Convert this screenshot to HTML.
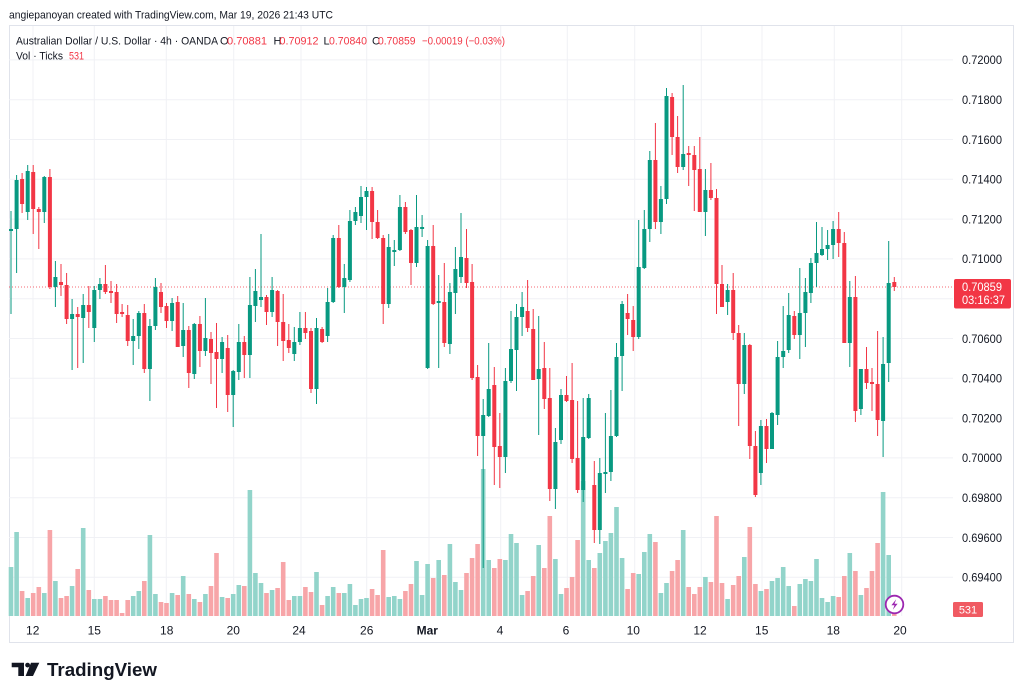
<!DOCTYPE html>
<html>
<head>
<meta charset="utf-8">
<style>
html,body{margin:0;padding:0;background:#fff;}
body{width:1024px;height:698px;overflow:hidden;}
svg{display:block;}
text{font-family:"Liberation Sans",Arial,sans-serif;}
</style>
</head>
<body>
<svg width="1024" height="698" viewBox="0 0 1024 698" xmlns="http://www.w3.org/2000/svg">
<rect x="0" y="0" width="1024" height="698" fill="#ffffff"/>

<!-- header -->
<text x="9" y="18.5" font-size="11" fill="#131722" textLength="324" lengthAdjust="spacingAndGlyphs">angiepanoyan created with TradingView.com, Mar 19, 2026 21:43 UTC</text>

<!-- frame -->
<rect x="9.5" y="25.5" width="1004" height="617" fill="none" stroke="#e0e3eb" stroke-width="1"/>

<!-- grid -->
<g stroke="#f0f1f5" stroke-width="1">
<path d="M9 59.9H953M9 99.7H953M9 139.5H953M9 179.3H953M9 219.1H953M9 258.9H953M9 298.7H953M9 338.5H953M9 378.3H953M9 418.1H953M9 457.9H953M9 497.7H953M9 537.5H953M9 577.3H953"/>
<path d="M33 26V616M94.3 26V616M166.3 26V616M233.7 26V616M301 26V616M366.7 26V616M429 26V616M500.7 26V616M567.3 26V616M634.7 26V616M701.3 26V616M762 26V616M834.3 26V616M901.7 26V616"/>
</g>

<!-- current price dotted line -->
<path d="M9 287H954" stroke="#f23645" stroke-width="1" stroke-dasharray="1 2" opacity="0.75"/>

<!-- volume -->
<path fill="#92d4ca" d="M8.7 616V567h4.6V616zM14.3 616V532h4.6V616zM25.4 616V598h4.6V616zM42 616V593h4.6V616zM53.1 616V581h4.6V616zM69.8 616V586h4.6V616zM80.9 616V528h4.6V616zM92 616V599h4.6V616zM97.6 616V599h4.6V616zM130.9 616V596h4.6V616zM136.5 616V591h4.6V616zM147.6 616V535h4.6V616zM153.1 616V594h4.6V616zM169.8 616V593h4.6V616zM180.9 616V576h4.6V616zM192 616V599h4.6V616zM203.1 616V594h4.6V616zM219.8 616V597h4.6V616zM230.9 616V594h4.6V616zM236.5 616V585h4.6V616zM247.6 616V490h4.6V616zM253.1 616V573h4.6V616zM258.7 616V583h4.6V616zM269.8 616V590h4.6V616zM292 616V596h4.6V616zM297.6 616V596h4.6V616zM314.2 616V572h4.6V616zM325.3 616V596h4.6V616zM330.9 616V587h4.6V616zM342 616V593h4.6V616zM347.6 616V584h4.6V616zM353.1 616V605h4.6V616zM358.7 616V599h4.6V616zM364.2 616V598h4.6V616zM386.4 616V597h4.6V616zM392 616V596h4.6V616zM397.6 616V599h4.6V616zM414.2 616V561h4.6V616zM419.8 616V595h4.6V616zM425.3 616V564h4.6V616zM436.4 616V560h4.6V616zM447.6 616V544h4.6V616zM453.1 616V582h4.6V616zM458.7 616V590h4.6V616zM480.9 616V469h4.6V616zM486.4 616V560h4.6V616zM503.1 616V560h4.6V616zM508.7 616V534h4.6V616zM514.2 616V543h4.6V616zM519.8 616V595h4.6V616zM536.4 616V545h4.6V616zM553.1 616V559h4.6V616zM558.7 616V594h4.6V616zM580.9 616V481h4.6V616zM586.4 616V560h4.6V616zM597.5 616V553h4.6V616zM603.1 616V541h4.6V616zM608.6 616V533h4.6V616zM614.2 616V507h4.6V616zM619.8 616V558h4.6V616zM636.4 616V574h4.6V616zM642 616V552h4.6V616zM647.5 616V534h4.6V616zM658.6 616V593h4.6V616zM664.2 616V583h4.6V616zM680.9 616V530h4.6V616zM703.1 616V577h4.6V616zM725.3 616V599h4.6V616zM742 616V557h4.6V616zM758.6 616V591h4.6V616zM769.7 616V581h4.6V616zM775.3 616V578h4.6V616zM780.9 616V567h4.6V616zM786.4 616V586h4.6V616zM797.5 616V584h4.6V616zM803.1 616V579h4.6V616zM808.6 616V581h4.6V616zM814.2 616V559h4.6V616zM819.7 616V598h4.6V616zM825.3 616V602h4.6V616zM830.8 616V596h4.6V616zM847.5 616V553h4.6V616zM858.6 616V595h4.6V616zM880.8 616V492h4.6V616zM886.4 616V555h4.6V616z"/>
<path fill="#f7a5a8" d="M19.8 616V591h4.6V616zM30.9 616V593h4.6V616zM36.5 616V587h4.6V616zM47.6 616V530h4.6V616zM58.7 616V598h4.6V616zM64.3 616V596h4.6V616zM75.4 616V569h4.6V616zM86.5 616V590h4.6V616zM103.1 616V596h4.6V616zM108.7 616V600h4.6V616zM114.3 616V600h4.6V616zM119.8 616V613h4.6V616zM125.4 616V600h4.6V616zM142 616V581h4.6V616zM158.7 616V602h4.6V616zM164.2 616V603h4.6V616zM175.4 616V595h4.6V616zM186.5 616V594h4.6V616zM197.6 616V602h4.6V616zM208.7 616V586h4.6V616zM214.2 616V553h4.6V616zM225.4 616V598h4.6V616zM242 616V586h4.6V616zM264.2 616V593h4.6V616zM275.3 616V588h4.6V616zM280.9 616V562h4.6V616zM286.5 616V600h4.6V616zM303.1 616V587h4.6V616zM308.7 616V592h4.6V616zM319.8 616V605h4.6V616zM336.5 616V593h4.6V616zM369.8 616V589h4.6V616zM375.3 616V595h4.6V616zM380.9 616V550h4.6V616zM403.1 616V591h4.6V616zM408.7 616V584h4.6V616zM430.9 616V578h4.6V616zM442 616V575h4.6V616zM464.2 616V573h4.6V616zM469.8 616V558h4.6V616zM475.3 616V544h4.6V616zM492 616V568h4.6V616zM497.5 616V559h4.6V616zM525.3 616V591h4.6V616zM530.9 616V576h4.6V616zM542 616V568h4.6V616zM547.5 616V516h4.6V616zM564.2 616V588h4.6V616zM569.8 616V577h4.6V616zM575.3 616V540h4.6V616zM592 616V568h4.6V616zM625.3 616V589h4.6V616zM630.9 616V573h4.6V616zM653.1 616V542h4.6V616zM669.8 616V571h4.6V616zM675.3 616V560h4.6V616zM686.4 616V587h4.6V616zM692 616V594h4.6V616zM697.5 616V587h4.6V616zM708.6 616V582h4.6V616zM714.2 616V516h4.6V616zM719.7 616V583h4.6V616zM730.9 616V585h4.6V616zM736.4 616V576h4.6V616zM747.5 616V527h4.6V616zM753.1 616V584h4.6V616zM764.2 616V589h4.6V616zM792 616V606h4.6V616zM836.4 616V597h4.6V616zM842 616V576h4.6V616zM853.1 616V571h4.6V616zM864.2 616V588h4.6V616zM869.7 616V571h4.6V616zM875.3 616V543h4.6V616zM892 616V613h4.6V616z"/>

<!-- green candles -->
<path stroke="#089981" stroke-width="1" fill="none" d="M11 211V314M16.6 175V273M27.7 165V220M44.3 176V223M55.4 261V307M72.1 299V370M83.2 294V363M94.3 286V342M99.9 278V299M133.2 319V365M138.8 311V349M149.9 319V401M155.4 278V330M172.1 298V331M183.2 303V357M194.3 323V379M205.4 298V356M222.1 337V373M233.2 370V427M238.8 324V380M249.9 277V378M255.4 269V322M261 234V307M272.1 277V317M294.3 327V361M299.9 312V345M316.5 318V404M327.6 288V342M333.2 235V303M344.3 264V313M349.9 210V282M355.4 207V225M361 186V223M366.5 187V230M388.7 234V308M394.3 240V266M399.9 195V251M416.5 195V267M422.1 215V237M427.6 240V369M438.7 275V368M449.9 283V354M455.4 247V314M461 213V283M483.2 399V568M488.7 343V417M505.4 368V473M511 311V383M516.5 304V391M522.1 292V336M538.7 316V435M555.4 428V509M561 389V444M583.2 398V502M588.7 394V439M599.8 458V544M605.4 413V493M610.9 390V481M616.5 343V437M622.1 301V391M638.7 220V339M644.3 210V269M649.8 151V242M660.9 186V234M666.5 88V204M683.2 85V170M705.4 169V236M727.6 284V315M744.3 333V394M760.9 420V485M772 412V449M777.6 341V425M783.2 306V368M788.7 293V353M799.8 268V359M805.4 278V347M810.9 258V303M816.5 222V287M822 227V256M827.6 230V260M833.1 221V259M849.8 281V367M860.9 369V415M883.1 337V457M888.7 241V382"/>
<path fill="#089981" d="M9 229h4v2h-4zM14.6 180h4v49h-4zM25.7 171h4v41h-4zM42.3 177h4v35h-4zM53.4 277h4v10h-4zM70.1 314h4v5h-4zM81.2 305h4v13h-4zM92.3 290h4v38h-4zM97.9 284h4v6h-4zM131.2 336h4v5h-4zM136.8 313h4v23h-4zM147.9 326h4v43h-4zM153.4 287h4v39h-4zM170.1 303h4v18h-4zM181.2 330h4v16h-4zM192.3 324h4v50h-4zM203.4 338h4v13h-4zM220.1 342h4v17h-4zM231.2 371h4v24h-4zM236.8 342h4v30h-4zM247.9 305h4v50h-4zM253.4 291h4v15h-4zM259 297h4v3h-4zM270.1 290h4v22h-4zM292.3 342h4v12h-4zM297.9 328h4v14h-4zM314.5 328h4v61h-4zM325.6 302h4v34h-4zM331.2 238h4v64h-4zM342.3 278h4v9h-4zM347.9 221h4v59h-4zM353.4 212h4v9h-4zM359 197h4v19h-4zM364.5 191h4v6h-4zM386.7 247h4v57h-4zM392.3 250h4v2h-4zM397.9 207h4v43h-4zM414.5 227h4v36h-4zM420.1 227h4v2h-4zM425.6 246h4v122h-4zM436.7 301h4v2h-4zM447.9 292h4v52h-4zM453.4 269h4v24h-4zM459 257h4v20h-4zM481.2 415h4v21h-4zM486.7 389h4v27h-4zM503.4 381h4v76h-4zM509 349h4v32h-4zM514.5 317h4v33h-4zM520.1 307h4v10h-4zM536.7 369h4v10h-4zM553.4 442h4v47h-4zM559 395h4v45h-4zM581.2 437h4v53h-4zM586.7 398h4v40h-4zM597.8 473h4v57h-4zM603.4 472h4v2h-4zM608.9 436h4v36h-4zM614.5 357h4v79h-4zM620.1 304h4v52h-4zM636.7 267h4v70h-4zM642.3 229h4v39h-4zM647.8 160h4v69h-4zM658.9 199h4v23h-4zM664.5 96h4v103h-4zM681.2 154h4v13h-4zM703.4 190h4v22h-4zM725.6 290h4v12h-4zM742.3 345h4v39h-4zM758.9 426h4v47h-4zM770 413h4v36h-4zM775.6 357h4v58h-4zM781.2 351h4v6h-4zM786.7 315h4v35h-4zM797.8 313h4v22h-4zM803.4 292h4v21h-4zM808.9 263h4v30h-4zM814.5 253h4v10h-4zM820 249h4v6h-4zM825.6 245h4v4h-4zM831.1 229h4v16h-4zM847.8 297h4v46h-4zM858.9 369h4v40h-4zM881.1 364h4v57h-4zM886.7 283h4v80h-4z"/>

<!-- red candles -->
<path stroke="#f23645" stroke-width="1" fill="none" d="M22.1 173V213M33.2 165V234M38.8 207V249M49.9 169V289M61 264V296M66.6 273V324M77.7 307V368M88.8 286V328M105.4 265V294M111 281V303M116.6 284V323M122.1 304V317M127.7 305V346M144.3 304V373M161 283V313M166.5 303V328M177.7 296V347M188.8 326V388M199.9 316V367M211 332V384M216.5 323V408M227.7 335V412M244.3 336V378M266.5 295V325M277.6 290V346M283.2 294V361M288.8 324V353M305.4 312V339M311 328V393M322.1 327V343M338.8 225V288M372.1 187V239M377.6 210V239M383.2 235V324M405.4 202V234M411 229V285M433.2 225V305M444.3 263V347M466.5 229V288M472.1 264V380M477.6 365V456M494.3 367V485M499.8 413V488M527.6 280V332M533.2 309V380M544.3 342V409M549.8 368V501M566.5 376V402M572.1 363V463M577.6 401V493M594.3 461V543M627.6 294V335M633.2 306V351M655.4 123V229M672.1 93V155M677.6 116V173M688.7 146V186M694.3 146V211M699.8 137V212M710.9 163V200M716.5 189V314M722 265V307M733.2 273V340M738.7 325V426M749.8 344V459M755.4 431V497M766.5 419V463M794.3 311V339M838.7 212V257M844.3 232V343M855.4 276V422M866.5 347V389M872 368V411M877.6 331V436M894.3 277V291"/>
<path fill="#f23645" d="M20.1 179h4v25h-4zM31.2 172h4v37h-4zM36.8 209h4v3h-4zM47.9 177h4v110h-4zM59 282h4v3h-4zM64.6 285h4v34h-4zM75.7 314h4v3h-4zM86.8 305h4v7h-4zM103.4 284h4v8h-4zM109 291h4v2h-4zM114.6 292h4v22h-4zM120.1 312h4v2h-4zM125.7 315h4v26h-4zM142.3 313h4v56h-4zM159 292h4v15h-4zM164.5 306h4v15h-4zM175.7 302h4v45h-4zM186.8 330h4v43h-4zM197.9 324h4v27h-4zM209 339h4v14h-4zM214.5 352h4v7h-4zM225.7 348h4v47h-4zM242.3 342h4v13h-4zM264.5 297h4v15h-4zM275.6 291h4v31h-4zM281.2 322h4v19h-4zM286.8 340h4v8h-4zM303.4 328h4v5h-4zM309 331h4v58h-4zM320.1 329h4v13h-4zM336.8 238h4v49h-4zM370.1 191h4v31h-4zM375.6 222h4v16h-4zM381.2 238h4v66h-4zM403.4 207h4v25h-4zM409 230h4v33h-4zM431.2 246h4v58h-4zM442.3 302h4v41h-4zM464.5 258h4v25h-4zM470.1 282h4v96h-4zM475.6 377h4v59h-4zM492.3 385h4v62h-4zM497.8 446h4v11h-4zM525.6 311h4v17h-4zM531.2 329h4v51h-4zM542.3 368h4v31h-4zM547.8 398h4v91h-4zM564.5 395h4v6h-4zM570.1 400h4v59h-4zM575.6 458h4v32h-4zM592.3 485h4v45h-4zM625.6 313h4v6h-4zM631.2 320h4v17h-4zM653.4 160h4v62h-4zM670.1 97h4v40h-4zM675.6 137h4v30h-4zM686.7 153h4v2h-4zM692.3 155h4v15h-4zM697.8 169h4v43h-4zM708.9 190h4v8h-4zM714.5 198h4v86h-4zM720 284h4v23h-4zM731.2 290h4v43h-4zM736.7 333h4v51h-4zM747.8 345h4v101h-4zM753.4 446h4v49h-4zM764.5 426h4v23h-4zM792.3 316h4v19h-4zM836.7 229h4v14h-4zM842.3 243h4v100h-4zM853.4 297h4v114h-4zM864.5 369h4v14h-4zM870 382h4v2h-4zM875.6 384h4v36h-4zM892.3 282h4v5h-4z"/>

<!-- legend -->
<text x="16" y="44.3" font-size="11" fill="#131722" textLength="202" lengthAdjust="spacingAndGlyphs">Australian Dollar / U.S. Dollar · 4h · OANDA</text>
<text x="220" y="44.3" font-size="11" fill="#131722">O</text>
<text x="227" y="44.3" font-size="11" fill="#f23645" textLength="40" lengthAdjust="spacingAndGlyphs">0.70881</text>
<text x="273.5" y="44.3" font-size="11" fill="#131722">H</text>
<text x="279.5" y="44.3" font-size="11" fill="#f23645" textLength="39" lengthAdjust="spacingAndGlyphs">0.70912</text>
<text x="323.5" y="44.3" font-size="11" fill="#131722">L</text>
<text x="329" y="44.3" font-size="11" fill="#f23645" textLength="38" lengthAdjust="spacingAndGlyphs">0.70840</text>
<text x="372" y="44.3" font-size="11" fill="#131722">C</text>
<text x="378" y="44.3" font-size="11" fill="#f23645" textLength="37.5" lengthAdjust="spacingAndGlyphs">0.70859</text>
<text x="422" y="44.3" font-size="11" fill="#f23645" textLength="83" lengthAdjust="spacingAndGlyphs">−0.00019 (−0.03%)</text>
<text x="16" y="59.3" font-size="11" fill="#131722" textLength="47" lengthAdjust="spacingAndGlyphs">Vol · Ticks</text>
<text x="69" y="59.3" font-size="11" fill="#f23645" textLength="15" lengthAdjust="spacingAndGlyphs">531</text>

<!-- price axis labels -->
<g font-size="12" fill="#131722">
<text x="962" y="64.2" textLength="40" lengthAdjust="spacingAndGlyphs">0.72000</text>
<text x="962" y="104" textLength="40" lengthAdjust="spacingAndGlyphs">0.71800</text>
<text x="962" y="143.8" textLength="40" lengthAdjust="spacingAndGlyphs">0.71600</text>
<text x="962" y="183.6" textLength="40" lengthAdjust="spacingAndGlyphs">0.71400</text>
<text x="962" y="223.4" textLength="40" lengthAdjust="spacingAndGlyphs">0.71200</text>
<text x="962" y="263.2" textLength="40" lengthAdjust="spacingAndGlyphs">0.71000</text>
<text x="962" y="342.8" textLength="40" lengthAdjust="spacingAndGlyphs">0.70600</text>
<text x="962" y="382.6" textLength="40" lengthAdjust="spacingAndGlyphs">0.70400</text>
<text x="962" y="422.4" textLength="40" lengthAdjust="spacingAndGlyphs">0.70200</text>
<text x="962" y="462.2" textLength="40" lengthAdjust="spacingAndGlyphs">0.70000</text>
<text x="962" y="502" textLength="40" lengthAdjust="spacingAndGlyphs">0.69800</text>
<text x="962" y="541.8" textLength="40" lengthAdjust="spacingAndGlyphs">0.69600</text>
<text x="962" y="581.6" textLength="40" lengthAdjust="spacingAndGlyphs">0.69400</text>
</g>

<!-- current price tag -->
<rect x="954" y="279" width="57" height="29.5" rx="2" fill="#f23645"/>
<text x="962" y="291" font-size="12" fill="#ffffff" textLength="40" lengthAdjust="spacingAndGlyphs">0.70859</text>
<text x="962" y="304" font-size="12" fill="#ffffff" textLength="43" lengthAdjust="spacingAndGlyphs">03:16:37</text>

<!-- volume tag -->
<rect x="953" y="602" width="30" height="15" rx="1.5" fill="#f05a62"/>
<text x="968" y="613.5" font-size="11" fill="#ffffff" text-anchor="middle">531</text>

<!-- lightning icon -->
<circle cx="894.5" cy="604.5" r="8.8" fill="#ffffff" stroke="#9c27b0" stroke-width="1.8"/>
<path d="M896.2 599.2L891.4 605.3H894.5L892.8 609.8L897.6 603.7H894.5Z" fill="#9c27b0"/>

<!-- time axis -->
<g font-size="12" fill="#131722" text-anchor="middle">
<text x="32.7" y="634.5">12</text>
<text x="94.3" y="634.5">15</text>
<text x="166.7" y="634.5">18</text>
<text x="233.3" y="634.5">20</text>
<text x="299" y="634.5">24</text>
<text x="366.7" y="634.5">26</text>
<text x="427.3" y="634.5" font-weight="bold">Mar</text>
<text x="500" y="634.5">4</text>
<text x="566" y="634.5">6</text>
<text x="633.3" y="634.5">10</text>
<text x="700" y="634.5">12</text>
<text x="761.7" y="634.5">15</text>
<text x="833.3" y="634.5">18</text>
<text x="900" y="634.5">20</text>
</g>

<!-- logo -->
<g fill="#131722">
<path d="M11.7 662.7H24V676H18.3V667.3H11.7Z"/>
<circle cx="27.6" cy="665.1" r="2.4"/>
<path d="M31 662.7H39.3L33 676H25.6Z"/>
</g>
<text x="47" y="676" font-size="18.5" font-weight="bold" fill="#131722" textLength="110" lengthAdjust="spacingAndGlyphs">TradingView</text>
</svg>
</body>
</html>
